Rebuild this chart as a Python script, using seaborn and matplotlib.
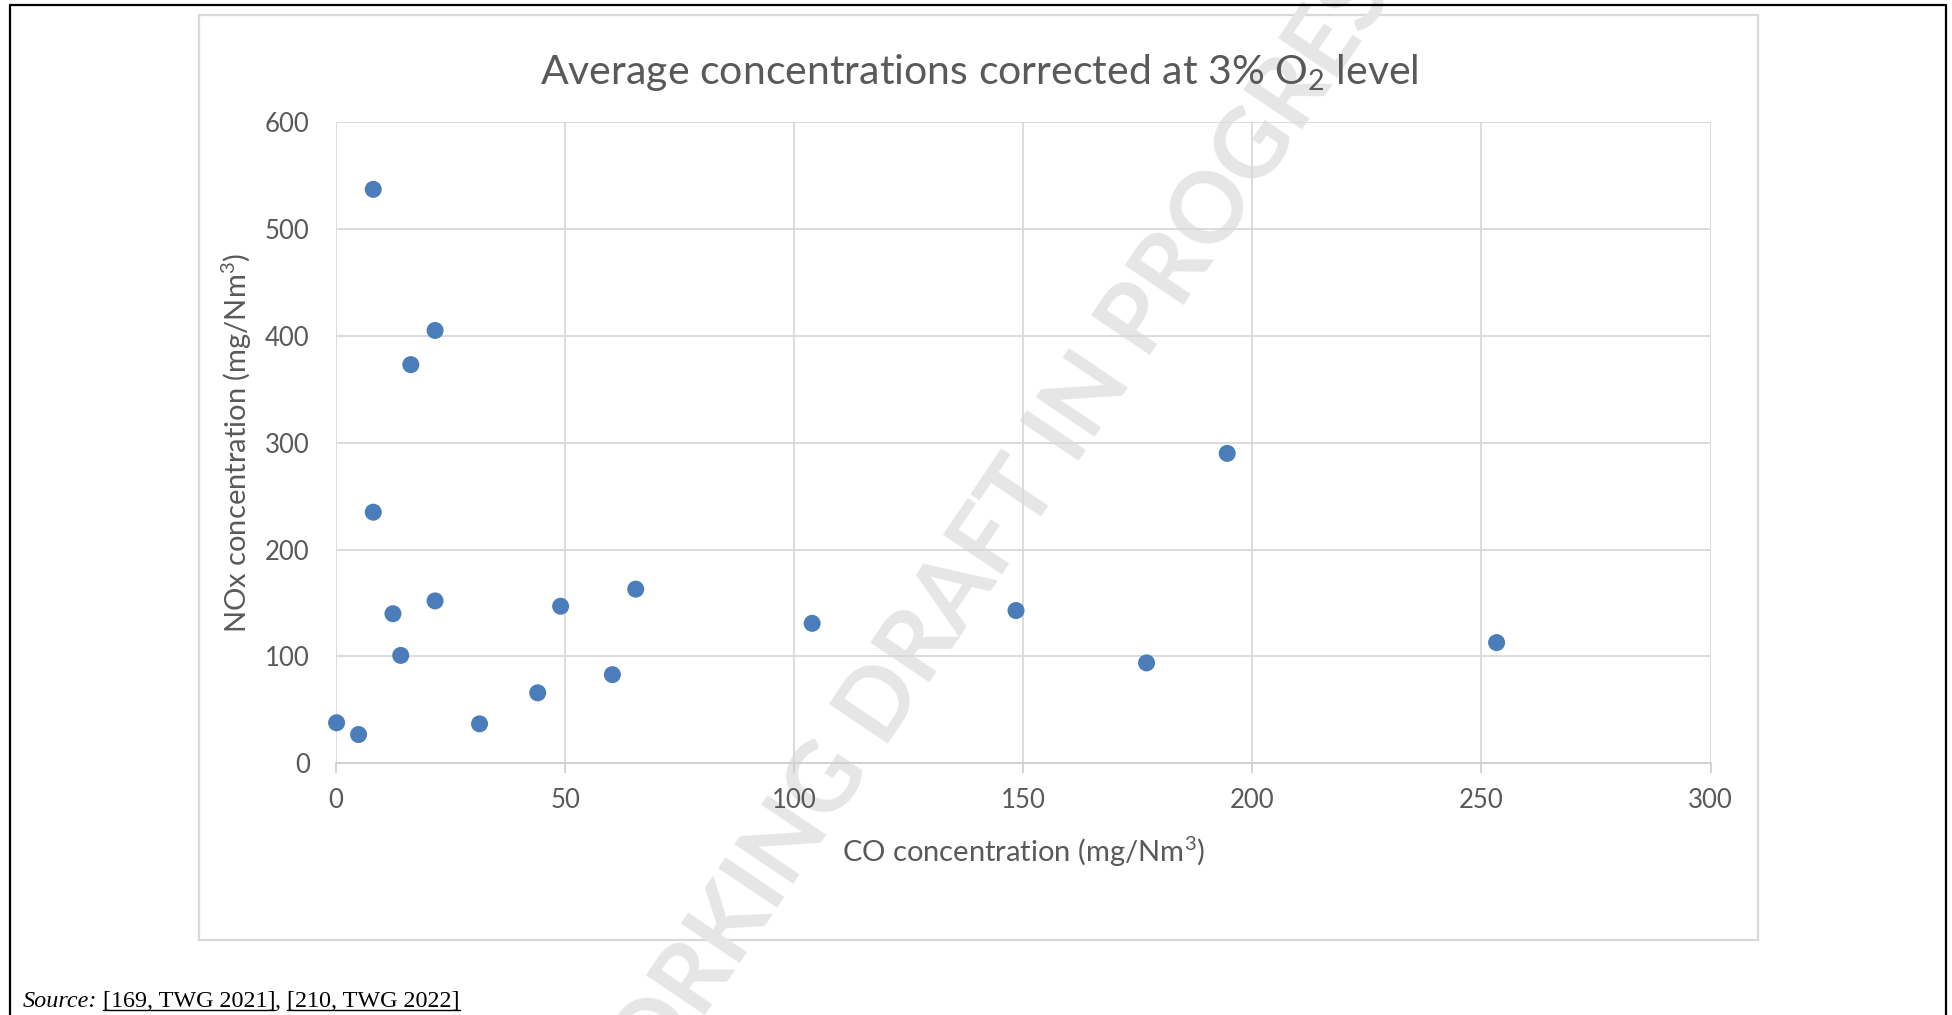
import matplotlib
matplotlib.use('Agg')
import matplotlib.pyplot as plt
import seaborn as sns
import pandas as pd
from matplotlib.patches import Rectangle
from matplotlib.lines import Line2D

# Datos (mg/Nm3, corregidos al 3 % de O2)
co_conc = [0.1, 4.9, 8.1, 8.1, 12.4, 14.1, 16.3, 21.6, 21.6, 31.3,
           44.0, 49.0, 60.3, 65.4, 103.9, 148.4, 176.9, 194.5, 253.3]
nox_conc = [38, 27, 537, 235, 140, 101, 373, 405, 152, 37,
            66, 147, 83, 163, 131, 143, 94, 290, 113]
x_ticks = [0, 50, 100, 150, 200, 250, 300]
y_ticks = [0, 100, 200, 300, 400, 500, 600]

df = pd.DataFrame({'co': co_conc, 'nox': nox_conc})

sns.set_theme(style="white")
plt.rcParams['font.family'] = ['Lato', 'DejaVu Sans']
plt.rcParams['mathtext.fontset'] = 'custom'
plt.rcParams['mathtext.rm'] = 'Lato'
plt.rcParams['mathtext.default'] = 'regular'

GRIS_TXT = '#595959'
GRIS_LIN = '#d9d9d9'

fig = plt.figure(figsize=(19.52, 10.15), dpi=100, facecolor='white')

# marco negro exterior (abierto por abajo)
for xs, ys in [([0.0051, 0.0051], [0.0, 0.995]), ([0.9968, 0.9968], [0.0, 0.995]),
               ([0.0051, 0.9968], [0.995, 0.995])]:
    fig.add_artist(Line2D(xs, ys, color='black', lw=1.6, transform=fig.transFigure))

# recuadro del area del grafico
fig.add_artist(Rectangle((0.102, 0.0736), 0.7985, 0.9117, transform=fig.transFigure,
                         fill=False, edgecolor=GRIS_LIN, lw=1.6, zorder=-2))

# marca de agua
fig.text(0.506, 0.464, 'WORKING DRAFT IN PROGRESS', rotation=56, rotation_mode='anchor',
         ha='center', va='center', fontsize=70, fontweight='bold',
         color='#e6e6e6', zorder=-1)

ax = fig.add_axes([0.1722, 0.2479, 0.7041, 0.6319])
ax.set_facecolor('none')

sns.scatterplot(data=df, x='co', y='nox', ax=ax, color='#4a7dba', s=150,
                edgecolor='none', zorder=3, clip_on=False)

ax.set_xlim(0, 300)
ax.set_ylim(0, 600)
ax.set_xticks(x_ticks)
ax.set_yticks(y_ticks)
ax.grid(True, color=GRIS_LIN, lw=1.3)
ax.set_axisbelow(True)
for lado in ['top', 'right', 'left']:
    ax.spines[lado].set_visible(False)
ax.spines['bottom'].set_color('#cfcfcf')
ax.spines['bottom'].set_linewidth(1.3)
ax.tick_params(axis='x', length=7, width=1.3, color='#cfcfcf', pad=11,
               labelsize=18.5, labelcolor=GRIS_TXT, direction='out', bottom=True)
ax.tick_params(axis='y', length=0, pad=19, labelsize=18.5, labelcolor=GRIS_TXT)

ax.set_xlabel('CO concentration (mg/Nm$^3$)', fontsize=21, color=GRIS_TXT)
ax.set_ylabel('NOx concentration (mg/Nm$^3$)', fontsize=21, color=GRIS_TXT)
ax.xaxis.label.set_va('center')
ax.yaxis.label.set_va('center')
ax.xaxis.set_label_coords(0.5, -0.138)
ax.yaxis.set_label_coords(-0.0725, 0.5)

fig.text(0.5016, 0.929, 'Average concentrations corrected at 3% O$_2$ level',
         ha='center', va='center', fontsize=29.5, color=GRIS_TXT)

# linea de fuente con partes subrayadas
renderer = fig.canvas.get_renderer()
partes = [('Source:', 'italic', False), (' ', 'normal', False),
          ('[169, TWG 2021]', 'normal', True), (', ', 'normal', False),
          ('[210, TWG 2022]', 'normal', True)]
x_pos = 0.0115
y_base = 0.008
for texto, estilo, subrayado in partes:
    t = fig.text(x_pos, y_base, texto, ha='left', va='baseline', fontsize=17.4,
                 family='Liberation Serif', style=estilo, color='black')
    bb = t.get_window_extent(renderer=renderer).transformed(fig.transFigure.inverted())
    if subrayado:
        fig.add_artist(Line2D([bb.x0, bb.x1], [y_base - 0.003, y_base - 0.003],
                              color='black', lw=1.0, transform=fig.transFigure))
    x_pos = bb.x1

fig.savefig('out.png', dpi=100, facecolor='white')
